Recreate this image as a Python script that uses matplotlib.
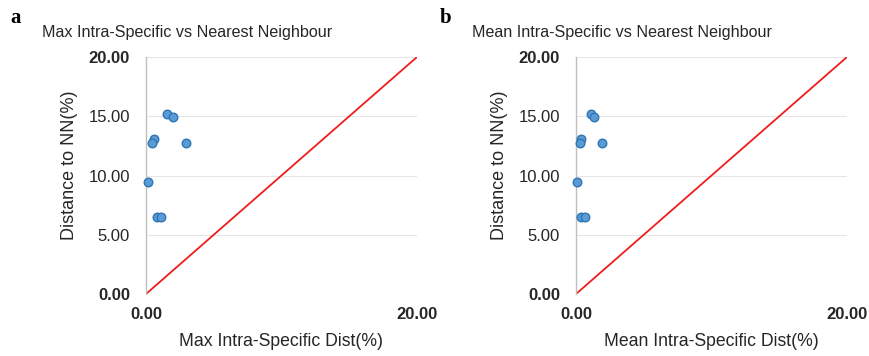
import matplotlib
matplotlib.use("Agg")
import matplotlib.pyplot as plt

plt.rcParams['font.family'] = ['Liberation Sans', 'DejaVu Sans']

max_x = [1.53, 2.02, 0.59, 0.44, 2.96, 0.17, 0.79, 1.09]
mean_x = [1.08, 1.33, 0.39, 0.27, 1.92, 0.05, 0.35, 0.66]
nn_y = [15.16, 14.96, 13.08, 12.72, 12.72, 9.48, 6.47, 6.47]

titles = ["Max Intra-Specific vs Nearest Neighbour", "Mean Intra-Specific vs Nearest Neighbour"]
xlabels = ["Max Intra-Specific Dist(%)", "Mean Intra-Specific Dist(%)"]
ylabel = "Distance to NN(%)"
letters = ["a", "b"]
yticks = [0, 5, 10, 15, 20]
xticks = [0, 20]

W, H = 870, 356
fig = plt.figure(figsize=(W / 100, H / 100), dpi=100)

lefts = [146, 576]
for i, (xs, left) in enumerate(zip([max_x, mean_x], lefts)):
    ax = fig.add_axes([left / W, (H - 294) / H, 271 / W, 237 / H])
    ax.set_xlim(0, 20)
    ax.set_ylim(0, 20)
    ax.plot([0, 20], [0, 20], color='#ee1c1c', lw=1.3, zorder=2)
    ax.scatter(xs, nn_y, s=38, facecolor='#5b9bd5', edgecolor='#2e75b6', lw=1.0, zorder=3, clip_on=False)
    for s in ['top', 'right', 'bottom']:
        ax.spines[s].set_visible(False)
    ax.spines['left'].set_color('#bfbfbf')
    ax.spines['left'].set_linewidth(1.0)
    ax.set_yticks(yticks)
    ax.set_xticks(xticks)
    ax.grid(axis='y', color='#e6e6e6', lw=0.8, zorder=0)
    ax.tick_params(length=0, labelsize=12, colors='#262626')
    ax.tick_params(axis='y', pad=11.5)
    ax.tick_params(axis='x', pad=9.5)
    ax.set_yticklabels([f"{v:.2f}" for v in yticks])
    ax.set_xticklabels([f"{v:.2f}" for v in xticks])
    for lab in ax.get_yticklabels():
        if lab.get_text() in ("0.00", "20.00"):
            lab.set_fontweight('bold')
    for lab in ax.get_xticklabels():
        lab.set_fontweight('bold')
    ax.set_xlabel(xlabels[i], fontsize=12.7, color='#262626', labelpad=7.5)
    ax.set_ylabel(ylabel, fontsize=13, color='#262626')
    ax.yaxis.set_label_coords(-68 / 271, (294 - 165) / 237)
    tx = (left - 104) / W
    fig.text(tx, 1 - 32 / H, titles[i], fontsize=11.6, color='#262626', ha='left', va='center')
    fig.text((left - 136) / W, 1 - 18 / H, letters[i], fontsize=15, fontweight='bold',
             family='Liberation Serif', ha='left', va='center')

fig.savefig("out.png", dpi=100)
